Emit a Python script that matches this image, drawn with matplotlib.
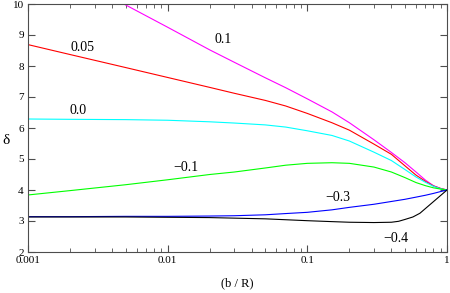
import numpy as np
import matplotlib
matplotlib.use("Agg")
import matplotlib.pyplot as plt
from matplotlib.ticker import FixedLocator, FixedFormatter, LogLocator, NullFormatter

# values
x = [0.001, 0.002, 0.005, 0.01, 0.02, 0.03, 0.05, 0.07, 0.1, 0.15, 0.2,
     0.3, 0.4, 0.5, 0.6, 0.7, 0.8, 0.9, 1.0]
d_p010 = [11.65, 10.93, 9.97, 9.25, 8.52, 8.12, 7.62, 7.3, 6.94, 6.52, 6.17,
          5.62, 5.21, 4.88, 4.58, 4.32, 4.14, 4.05, 4.0]
d_p005 = [8.69, 8.37, 7.95, 7.63, 7.31, 7.12, 6.89, 6.71, 6.47, 6.17, 5.93,
          5.48, 5.15, 4.78, 4.48, 4.28, 4.13, 4.05, 4.0]
d_000 = [6.29, 6.28, 6.27, 6.25, 6.2, 6.16, 6.1, 6.03, 5.91, 5.76, 5.58,
         5.22, 4.95, 4.66, 4.42, 4.25, 4.12, 4.04, 4.0]
d_m010 = [3.84, 3.98, 4.17, 4.33, 4.5, 4.58, 4.71, 4.8, 4.86, 4.88, 4.86,
          4.74, 4.58, 4.4, 4.24, 4.14, 4.07, 4.03, 4.0]
d_m030 = [3.14, 3.14, 3.15, 3.15, 3.16, 3.17, 3.2, 3.24, 3.28, 3.36, 3.44,
          3.54, 3.63, 3.7, 3.77, 3.83, 3.89, 3.95, 4.0]
x_m040 = [0.001, 0.002, 0.005, 0.01, 0.02, 0.05, 0.1, 0.15, 0.2, 0.3, 0.4,
          0.45, 0.5, 0.57, 0.64, 1.0]
d_m040 = [3.13, 3.13, 3.13, 3.12, 3.11, 3.07, 3.01, 2.98, 2.96, 2.95, 2.96,
          2.99, 3.05, 3.13, 3.25, 4.0]

series = [
    (x, d_p010, "magenta", "0.1", (0.0249, 8.84)),
    (x, d_p005, "red", "0.05", (0.00244, 8.61)),
    (x, d_000, "cyan", "0.0", (0.00228, 6.58)),
    (x, d_m010, "lime", "\u22120.1", (0.0135, 4.71)),
    (x, d_m030, "blue", "\u22120.3", (0.166, 3.77)),
    (x_m040, d_m040, "black", "\u22120.4", (0.43, 2.45)),
]

plt.rcParams["font.family"] = ["Liberation Serif", "DejaVu Serif"]

fig = plt.figure(figsize=(4.5, 2.93), dpi=100)
ax = fig.add_axes([28 / 450, 41 / 293, 419 / 450, 248 / 293])

for xs, ys, col, lab, pos in series:
    ax.plot(xs, ys, color=col, linewidth=0.8)
    ax.text(pos[0], pos[1], lab, fontsize=10, ha="center", va="center")

ax.set_xscale("log")
ax.set_xlim(0.001, 1)
ax.set_ylim(2, 10)

ax.xaxis.set_major_locator(FixedLocator([0.001, 0.01, 0.1, 1]))
ax.xaxis.set_major_formatter(FixedFormatter(["0.001", "0.01", "0.1", "1"]))
ax.xaxis.set_minor_locator(LogLocator(base=10, subs=np.arange(2, 10)))
ax.xaxis.set_minor_formatter(NullFormatter())
ax.set_yticks(range(2, 11))

ax.tick_params(which="both", direction="in", top=True, right=True,
               labelsize=8, color="0.3")
ax.tick_params(axis="x", pad=3)
ax.tick_params(axis="y", pad=3)
ax.tick_params(which="major", length=5)
ax.tick_params(which="minor", length=3)
for s in ax.spines.values():
    s.set_color("0.3")
    s.set_linewidth(0.8)

ax.set_xlabel("(b / R)", fontsize=9, va="center")
ax.xaxis.set_label_coords(0.5, -0.125)
ax.set_ylabel("\u03b4", fontsize=11, rotation=0, va="center", ha="center")
ax.yaxis.set_label_coords(-0.052, 0.45)

fig.savefig("out.png", dpi=100)
